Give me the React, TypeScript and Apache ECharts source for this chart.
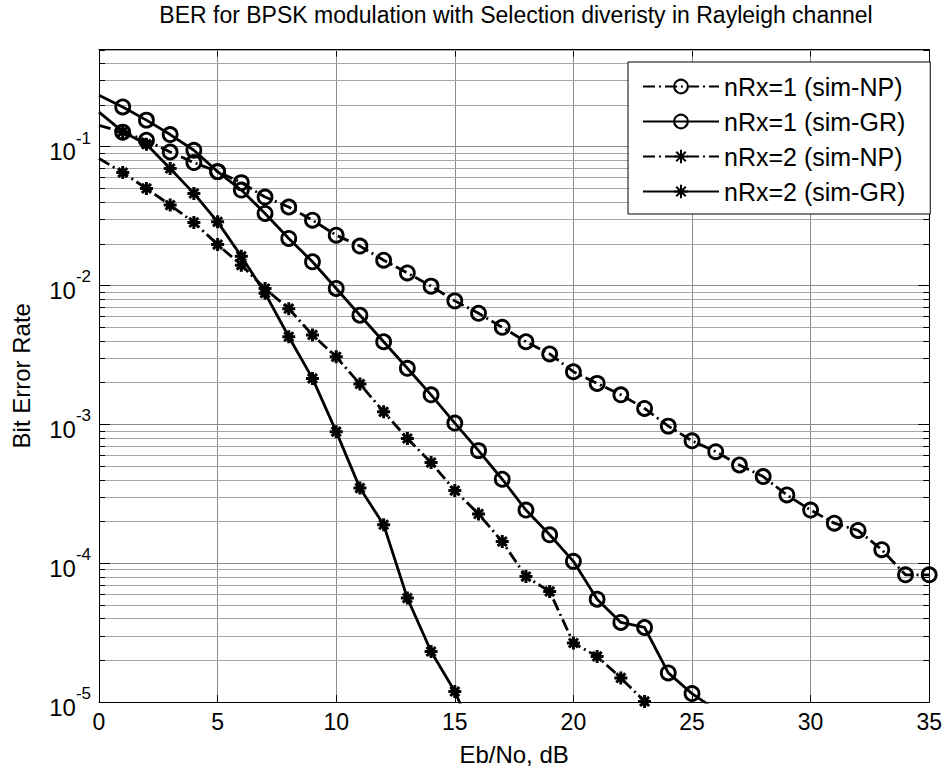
import React, { useEffect, useRef } from 'react';
import * as echarts from 'echarts';

// Eb/No axis values (dB)
const ebNo = [0, 1, 2, 3, 4, 5, 6, 7, 8, 9, 10, 11, 12, 13, 14, 15, 16, 17, 18, 19, 20, 21, 22, 23, 24, 25, 26, 27, 28, 29, 30, 31, 32, 33, 34, 35];

// Series values (index i ↔ ebNo[i])
const berRx1NP = [0.142, 0.127, 0.111, 0.0914, 0.0767, 0.066, 0.055, 0.0433, 0.0367, 0.0295, 0.023, 0.0192, 0.0152, 0.0123, 0.00988, 0.00774, 0.0063, 0.00499, 0.00393, 0.00321, 0.00239, 0.00197, 0.00163, 0.0013, 0.00097, 0.00076, 0.000635, 0.000509, 0.00042, 0.00031, 0.000241, 0.000194, 0.000172, 0.000125, 0.0000824, 0.0000824];
const berRx1GR = [0.234, 0.193, 0.155, 0.122, 0.094, 0.066, 0.0486, 0.033, 0.0218, 0.0148, 0.0095, 0.0061, 0.00393, 0.00253, 0.00163, 0.00102, 0.000646, 0.000402, 0.000241, 0.00016, 0.000103, 0.000055, 0.0000374, 0.0000344, 0.0000162, 0.0000115, 0.0000088];
const berRx2NP = [0.082, 0.065, 0.0499, 0.0379, 0.0284, 0.0197, 0.014, 0.0095, 0.0068, 0.0044, 0.00306, 0.00195, 0.00123, 0.00079, 0.00053, 0.000333, 0.000226, 0.000143, 0.00008, 0.0000625, 0.0000266, 0.0000213, 0.0000149, 0.0000101];
const berRx2GR = [0.177, 0.128, 0.104, 0.0695, 0.046, 0.0287, 0.0162, 0.0088, 0.00427, 0.00214, 0.000885, 0.000347, 0.000189, 0.000056, 0.0000231, 0.0000119, 0.0000049];

const seriesNames = ['nRx=1 (sim-NP)', 'nRx=1 (sim-GR)', 'nRx=2 (sim-NP)', 'nRx=2 (sim-GR)'];

const xTicks = [0, 5, 10, 15, 20, 25, 30, 35];
const yDecadeExponents = [-5, -4, -3, -2, -1];
const yMinorMantissas = [2, 3, 4, 5, 6, 7, 8, 9];

const titleText = 'BER for BPSK modulation with Selection diveristy in Rayleigh channel';
const xName = 'Eb/No, dB';
const yName = 'Bit Error Rate';

const FONT = '"Liberation Sans", Arial, Helvetica, sans-serif';
const STAR = 'path://M6 0L6 12M0 6L12 6M1.8 1.8L10.2 10.2M1.8 10.2L10.2 1.8';
const DASHDOT = [12, 4, 2, 4];

const Y_MIN = 1e-5;
const Y_MAX = 0.5;

export default function App() {
  const ref = useRef<HTMLDivElement | null>(null);

  useEffect(() => {
    document.body.style.margin = '0';
    if (!ref.current) return;
    const chart = echarts.init(ref.current, undefined, { renderer: 'svg' });

    const toData = (vals: number[]) =>
      vals.map((v, i) => (i === 0 ? { value: [ebNo[i], v], symbol: 'none' } : [ebNo[i], v]));

    const minorValues: number[] = [];
    yDecadeExponents.forEach((e) => {
      yMinorMantissas.forEach((m) => {
        const v = m * Math.pow(10, e);
        if (v <= Y_MAX * 1.0001) minorValues.push(v);
      });
    });

    const isDecade = (v: number) => {
      const l = Math.log10(v);
      return Math.abs(l - Math.round(l)) < 1e-6;
    };

    const lineSeries = (name: string, vals: number[], dashed: boolean, star: boolean) => ({
      name,
      type: 'line',
      data: toData(vals),
      clip: true,
      symbol: star ? STAR : 'circle',
      symbolSize: star ? 13 : 14,
      showAllSymbol: true,
      z: 5,
      lineStyle: { color: '#000', width: 2.8, type: dashed ? DASHDOT : 'solid' },
      itemStyle: star
        ? { color: '#000', borderColor: '#000', borderWidth: 3 }
        : { color: 'rgba(0,0,0,0)', borderColor: '#000', borderWidth: 2.8 },
      emphasis: { disabled: true },
    });

    const option: any = {
      animation: false,
      backgroundColor: '#fff',
      textStyle: { fontFamily: FONT, color: '#000' },
      graphic: [
        {
          type: 'text',
          x: 516,
          y: 15,
          style: {
            text: titleText,
            font: `23px ${FONT}`,
            fill: '#000',
            textAlign: 'center',
            textVerticalAlign: 'middle',
          },
        },
      ],
      grid: { left: 99, right: 15, top: 49.5, bottom: 68.7, containLabel: false },
      legend: {
        data: seriesNames,
        orient: 'vertical',
        left: 628,
        top: 62,
        backgroundColor: '#fff',
        borderColor: '#000',
        borderWidth: 1,
        borderRadius: 0,
        padding: [12, 25, 10, 14],
        itemWidth: 76,
        itemHeight: 17,
        itemGap: 10,
        selectedMode: false,
        textStyle: { fontSize: 25, color: '#000', fontFamily: FONT, lineHeight: 25 },
      },
      xAxis: [
        {
          type: 'value',
          min: 0,
          max: 35,
          interval: 5,
          name: xName,
          nameLocation: 'middle',
          nameGap: 40,
          nameTextStyle: { fontSize: 24, color: '#000', fontFamily: FONT },
          axisLine: { show: true, onZero: false, lineStyle: { color: '#000', width: 1 } },
          axisTick: { show: true, inside: true, length: 7, lineStyle: { color: '#000' } },
          axisLabel: { fontSize: 23, color: '#000', margin: 8, fontFamily: FONT },
          splitLine: { show: true, lineStyle: { color: '#8c8c8c', width: 1 } },
        },
        {
          type: 'value',
          position: 'top',
          min: 0,
          max: 35,
          interval: 5,
          axisLine: { show: true, onZero: false, lineStyle: { color: '#000', width: 1 } },
          axisTick: { show: true, inside: true, length: 7, lineStyle: { color: '#000' } },
          axisLabel: { show: false },
          splitLine: { show: false },
        },
      ],
      yAxis: [
        {
          type: 'log',
          logBase: 10,
          min: Y_MIN,
          max: Y_MAX,
          name: yName,
          nameLocation: 'middle',
          nameGap: 66,
          nameRotate: 90,
          nameTextStyle: { fontSize: 24, color: '#000', fontFamily: FONT },
          axisLine: { show: true, onZero: false, lineStyle: { color: '#000', width: 1 } },
          axisTick: { show: true, inside: true, length: 11, lineStyle: { color: '#000' } },
          axisLabel: {
            margin: 8,
            formatter: (v: number) => {
              if (!isDecade(v)) return '';
              const e = Math.round(Math.log10(v));
              return `{b|10}{s|${e}}`;
            },
            rich: {
              b: { fontSize: 24, color: '#000', fontFamily: FONT, lineHeight: 34, verticalAlign: 'bottom' },
              s: { fontSize: 17, color: '#000', fontFamily: FONT, lineHeight: 34, verticalAlign: 'top' },
            },
          },
          splitLine: { show: true, lineStyle: { color: '#8c8c8c', width: 1 } },
        },
        {
          type: 'log',
          logBase: 10,
          min: Y_MIN,
          max: Y_MAX,
          position: 'right',
          axisLine: { show: true, onZero: false, lineStyle: { color: '#000', width: 1 } },
          axisTick: { show: true, inside: true, length: 11, lineStyle: { color: '#000' } },
          axisLabel: { show: false },
          splitLine: { show: false },
        },
      ],
      series: [
        {
          type: 'custom',
          silent: true,
          z: 1,
          xAxisIndex: 0,
          yAxisIndex: 0,
          data: minorValues.map((v) => [0, v]),
          renderItem: (params: any, api: any) => {
            const v = api.value(1);
            const pt = api.coord([0, v]);
            const cs = params.coordSys;
            const y = Math.round(pt[1]) + 0.5;
            return {
              type: 'group',
              children: [
                { type: 'line', shape: { x1: cs.x, y1: y, x2: cs.x + cs.width, y2: y }, style: { stroke: '#a6a6a6', lineWidth: 1 } },
                { type: 'line', shape: { x1: cs.x, y1: y, x2: cs.x + 6, y2: y }, style: { stroke: '#000', lineWidth: 1 } },
                { type: 'line', shape: { x1: cs.x + cs.width - 6, y1: y, x2: cs.x + cs.width, y2: y }, style: { stroke: '#000', lineWidth: 1 } },
              ],
            };
          },
        },
        lineSeries(seriesNames[0], berRx1NP, true, false),
        lineSeries(seriesNames[1], berRx1GR, false, false),
        lineSeries(seriesNames[2], berRx2NP, true, true),
        lineSeries(seriesNames[3], berRx2GR, false, true),
      ],
    };

    chart.setOption(option);
    return () => chart.dispose();
  }, []);

  return <div ref={ref} style={{ width: 945, height: 771 }} />;
}
